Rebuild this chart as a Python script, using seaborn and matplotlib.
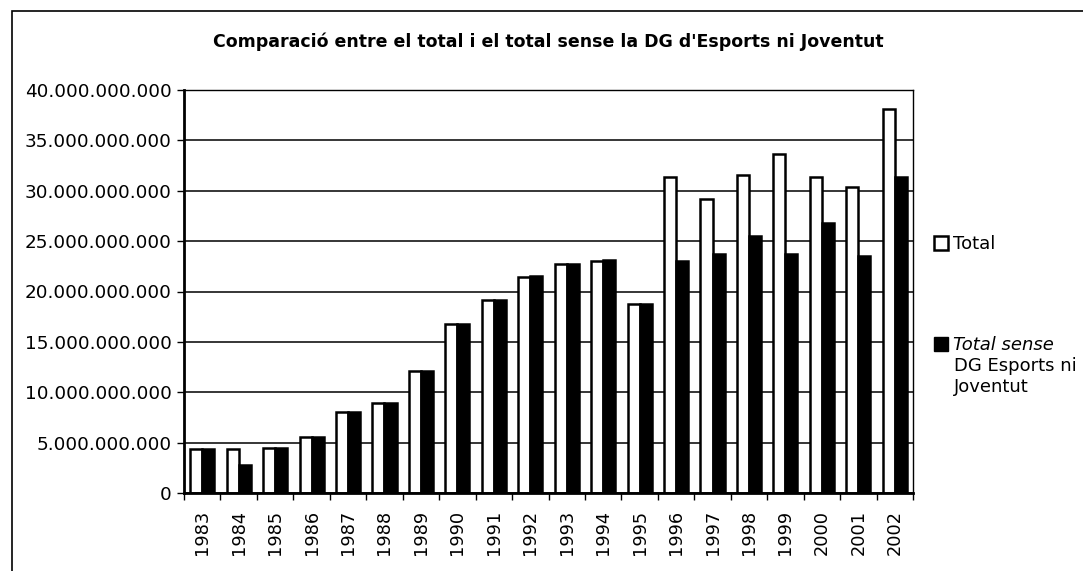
import matplotlib
matplotlib.use("Agg")
import matplotlib.pyplot as plt
import matplotlib.ticker as mticker
import numpy as np
import pandas as pd
import seaborn as sns
from matplotlib.patches import Patch, Rectangle

YEARS = [str(y) for y in range(1983, 2003)]
TOTAL = [4.4, 4.4, 4.5, 5.6, 8.0, 8.9, 12.1, 16.8, 19.2, 21.4,
         22.7, 23.0, 18.8, 31.4, 29.2, 31.6, 33.6, 31.4, 30.4, 38.1]
SENSE = [4.4, 2.8, 4.5, 5.6, 8.0, 8.9, 12.1, 16.8, 19.2, 21.5,
         22.7, 23.1, 18.8, 23.0, 23.7, 25.5, 23.7, 26.8, 23.5, 31.4]
SERIES = ["Total", "Total sense DG Esports ni Joventut"]
TITLE = "Comparació entre el total i el total sense la DG d'Esports ni Joventut"

df = pd.DataFrame({
    "any": YEARS * 2,
    "serie": [SERIES[0]] * len(YEARS) + [SERIES[1]] * len(YEARS),
    "valor": [v * 1e9 for v in TOTAL + SENSE],
})

sns.set_style("white")
plt.rcParams["font.family"] = ["DejaVu Sans"]
plt.rcParams["text.color"] = "black"
plt.rcParams["xtick.color"] = "black"
plt.rcParams["ytick.color"] = "black"

fig = plt.figure(figsize=(10.83, 5.71), dpi=100)
ax = fig.add_axes([184 / 1083, 1 - 493 / 571, (913 - 184) / 1083, (493 - 90) / 571])

sns.barplot(data=df, x="any", y="valor", hue="serie", palette=["white", "black"],
            edgecolor="black", linewidth=1.8, width=0.66, gap=0, ax=ax, legend=False)

ax.set_ylim(0, 40e9)
ax.set_xlim(-0.5, len(YEARS) - 0.5)
ax.yaxis.set_major_locator(mticker.MultipleLocator(5e9))
ax.yaxis.set_major_formatter(mticker.FuncFormatter(lambda v, p: f"{int(v):,}".replace(",", ".")))
ax.grid(axis="y", color="black", linewidth=1.1)
ax.set_axisbelow(True)
ax.set_xlabel("")
ax.set_ylabel("")

ax.tick_params(axis="y", left=True, length=5, width=1, color="black", labelsize=13.2,
               labelcolor="black", pad=4)
ax.tick_params(axis="x", which="major", bottom=False, length=0, labelsize=12.8,
               labelcolor="black", labelrotation=90, pad=12)
ax.set_xticks(np.arange(-0.5, len(YEARS)), minor=True)
ax.tick_params(axis="x", which="minor", bottom=True, length=5, width=1, color="black")

for side in ["top", "right"]:
    ax.spines[side].set_color("black")
    ax.spines[side].set_linewidth(1.0)
for side in ["left", "bottom"]:
    ax.spines[side].set_color("black")
    ax.spines[side].set_linewidth(2.0)

fig.text(548 / 1083, 1 - 42 / 571, TITLE, ha="center", va="center",
         fontsize=12.5, fontweight="bold", color="black")

# legend
handles = [Patch(facecolor="white", edgecolor="black", linewidth=1.8),
           Patch(facecolor="black", edgecolor="black", linewidth=1.0)]
leg = fig.legend(handles, ["Total", "Total sense"], loc="upper left",
                 bbox_to_anchor=(934 / 1083, 1 - 235 / 571), frameon=False,
                 fontsize=13, handlelength=0.75, handleheight=0.8, handletextpad=0.3,
                 labelspacing=4.6, borderaxespad=0, borderpad=0)
leg.get_texts()[1].set_fontstyle("italic")
fig.text(954 / 1083, 1 - 366 / 571, "DG Esports ni", fontsize=13, va="center", ha="left")
fig.text(954 / 1083, 1 - 387 / 571, "Joventut", fontsize=13, va="center", ha="left")

# outer chart border
fig.patches.append(Rectangle((12 / 1083, -0.05), 1.2, 1 - 11 / 571 + 0.05,
                             transform=fig.transFigure, fill=False,
                             edgecolor="black", linewidth=1.2))

fig.savefig("out.png", dpi=100)
